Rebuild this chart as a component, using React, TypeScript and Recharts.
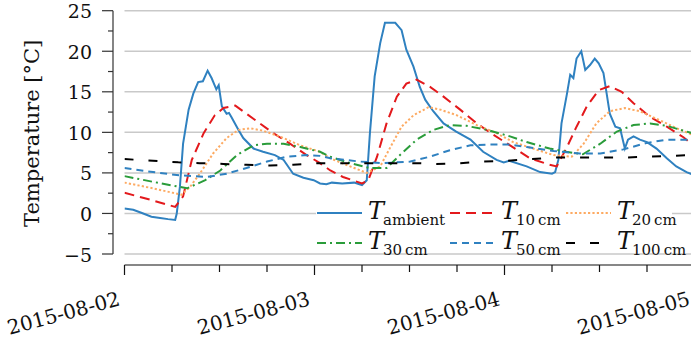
import { CartesianGrid, Legend, Line, LineChart, XAxis, YAxis } from "recharts";

type Pair = [number, number];

// hours since 2015-08-02 00:00, temperature in °C
const tAmbient: Pair[] = [
  [0, 0.6], [1.1, 0.45], [2.2, 0.05], [3.4, -0.4], [4.5, -0.55], [5.5, -0.7], [6.4, -0.8],
  [6.6, 0], [7.0, 3.3], [7.4, 8.6], [8.1, 12.8], [8.7, 14.8], [9.3, 16.2], [9.9, 16.3],
  [10.5, 17.6], [11.0, 16.7], [11.6, 15.3], [11.9, 15.8], [12.3, 13.2], [12.9, 12.3],
  [13.2, 12.4], [13.5, 11.9], [14.4, 10.3], [15.0, 9.3], [16.3, 8.0], [17.5, 7.6],
  [19.0, 7.2], [20.1, 6.6], [21.3, 4.9], [22.6, 4.4], [23.9, 4.1], [24.7, 3.7], [25.5, 3.6],
  [26.2, 3.8], [27.5, 3.7], [29.0, 3.8], [30.0, 3.5], [30.6, 4.1], [31.0, 9.9], [31.6, 16.9],
  [32.3, 21.0], [32.9, 23.5], [34.2, 23.5], [35.0, 22.6], [35.6, 20.2], [36.5, 18.1],
  [37.3, 15.6], [38.0, 14.0], [39.0, 12.6], [40.3, 11.1], [41.9, 10.1], [43.7, 9.1],
  [45.3, 7.6], [47.0, 6.6], [47.9, 6.3], [48.6, 6.5], [50.8, 5.8], [52.5, 5.1], [54.0, 4.9],
  [54.4, 5.1], [54.8, 6.6], [55.2, 11.1], [55.9, 14.8], [56.3, 17.1], [56.7, 16.7],
  [57.1, 19.1], [57.7, 20.0], [58.2, 17.7], [58.8, 18.3], [59.4, 19.1], [59.9, 18.5],
  [60.5, 17.3], [60.9, 14.8], [61.3, 12.3], [62.0, 10.7], [62.6, 10.5], [63.2, 8.0],
  [63.6, 9.1], [64.3, 9.5], [65.1, 9.1], [66.0, 8.8], [67.2, 8.0], [68.5, 6.8], [69.7, 5.8],
  [71.0, 5.1], [72, 4.7],
];

const t10cm: Pair[] = [
  [0, 2.55], [3.6, 1.6], [6.4, 0.8], [7.4, 2.1], [8.5, 6.6], [10.0, 9.9], [11.4, 12.1],
  [12.5, 13.0], [14.0, 13.3], [15.4, 12.3], [17.1, 11.1], [18.8, 9.9], [20.9, 8.6],
  [23.0, 7.2], [24.7, 6.2], [26.0, 5.3], [27.6, 4.5], [30.0, 3.7], [30.8, 4.1], [31.9, 7.0],
  [33.1, 11.1], [34.4, 14.4], [35.6, 16.0], [36.9, 16.5], [38.6, 15.6], [40.3, 14.4],
  [42.4, 12.8], [44.5, 11.1], [46.6, 9.7], [48.7, 8.4], [51.2, 6.8], [53.7, 6.0], [54.6, 5.8],
  [55.9, 8.2], [57.1, 10.7], [58.4, 13.2], [59.9, 15.2], [61.3, 15.7], [62.8, 15.0],
  [64.3, 13.6], [66.4, 11.9], [68.5, 10.7], [70.6, 9.4], [72, 8.3],
];

const t20cm: Pair[] = [
  [0, 3.8], [3.6, 3.1], [7.2, 2.3], [8.3, 3.3], [9.5, 4.9], [11.2, 7.4], [12.9, 9.3],
  [14.4, 10.3], [15.9, 10.5], [17.5, 10.2], [19.6, 9.5], [22.2, 8.4], [24.7, 7.6], [26.0, 6.8],
  [28.5, 5.8], [30.6, 5.0], [32.3, 5.8], [33.6, 8.2], [35.0, 10.7], [36.5, 12.1], [38.4, 13.1],
  [39.9, 12.8], [42.0, 12.1], [44.5, 10.9], [47.0, 9.9], [49.1, 8.8], [51.6, 8.0], [54.2, 7.2],
  [56.5, 7.0], [58.0, 8.6], [59.6, 11.1], [61.3, 12.6], [63.2, 13.0], [65.1, 12.6],
  [67.6, 11.5], [70.2, 10.3], [72, 9.6],
];

const t30cm: Pair[] = [
  [0, 4.6], [3.6, 3.9], [7.9, 3.1], [10.2, 4.1], [12.1, 5.3], [14.2, 7.2], [16.3, 8.4],
  [18.0, 8.6], [20.1, 8.6], [22.2, 8.2], [24.7, 7.6], [26.0, 7.0], [28.5, 6.2], [31.0, 5.6],
  [33.1, 5.6], [34.8, 7.2], [36.9, 9.1], [39.0, 10.3], [41.1, 10.9], [43.2, 10.8],
  [45.8, 10.3], [48.7, 9.5], [50.8, 8.8], [53.7, 8.0], [55.8, 7.6], [57.9, 7.3], [60.1, 8.6],
  [62.2, 10.1], [64.3, 10.9], [66.4, 11.1], [68.5, 10.8], [71.0, 10.1], [72, 9.8],
];

const t50cm: Pair[] = [
  [0, 5.6], [3.6, 5.1], [7.0, 4.7], [10.4, 4.5], [12.9, 4.9], [15.4, 5.6], [18.0, 6.4],
  [20.5, 7.0], [23.0, 7.2], [24.7, 7.1], [26.0, 6.8], [29.7, 6.4], [32.7, 6.2], [36.1, 6.4],
  [38.6, 7.0], [41.1, 7.8], [43.7, 8.4], [46.2, 8.5], [48.7, 8.5], [50.8, 8.2], [54.2, 7.7],
  [57.5, 7.4], [60.1, 7.4], [63.0, 7.9], [66.0, 8.7], [68.5, 9.1], [72, 9.1],
];

const t100cm: Pair[] = [
  [0, 6.7], [3.6, 6.5], [6.8, 6.3], [9.5, 6.2], [12.5, 6.1], [15.4, 6.0], [18.4, 5.9],
  [21.3, 6.0], [24.3, 6.2], [27.0, 6.2], [30.0, 6.2], [33.0, 6.2], [36.9, 6.2], [39.4, 6.1],
  [42.4, 6.2], [45.3, 6.4], [48.3, 6.5], [51.2, 6.7], [54.6, 6.9], [57.1, 6.9], [60.1, 6.9],
  [63.4, 6.9], [66.0, 7.0], [68.9, 7.1], [72, 7.2],
];

const yTicks = [-5, -2.5, 0, 2.5, 5, 7.5, 10, 12.5, 15, 17.5, 20, 22.5, 25];
const yGrid = [-5, 0, 5, 10, 15, 20, 25];
const xTicks = [0, 6, 12, 18, 24, 30, 36, 42, 48, 54, 60, 66, 72];
const dayLabels = ["2015-08-02", "2015-08-03", "2015-08-04", "2015-08-05"];

const BLUE = "#2f81c0";
const series = [
  { name: "ambient", data: tAmbient, color: BLUE, dash: undefined as string | undefined },
  { name: "10\u2009cm", data: t10cm, color: "#e3191c", dash: "10 6" },
  { name: "20\u2009cm", data: t20cm, color: "#fdaa62", dash: "2.2 2.2" },
  { name: "30\u2009cm", data: t30cm, color: "#2a9c3a", dash: "9 4 2 4" },
  { name: "50\u2009cm", data: t50cm, color: BLUE, dash: "7 5" },
  { name: "100\u2009cm", data: t100cm, color: "#000000", dash: "9 15" },
];

const FONT = "DejaVu Serif";
const TOP = 10.7;
const Y_PAD = 11;
const X_AXIS_H = 76;
const H = 341;
const PPU = (H - X_AXIS_H - Y_PAD - TOP) / 30;

const toPoints = (d: Pair[]) => d.map(([h, v]) => ({ h, v }));

function YTick(props: any) {
  const { x, y, payload } = props;
  const v = payload.value as number;
  const ax = x - 11.5;
  const major = v % 5 === 0;
  return (
    <g>
      {v === 25 && <line x1={ax} x2={ax} y1={y} y2={y + 30 * PPU} stroke="#333" strokeWidth={1.2} />}
      <line x1={ax - (major ? 11 : 5)} x2={ax} y1={y} y2={y} stroke="#333" strokeWidth={1.2} />
      {major && (
        <text x={ax - 21} y={y + 7.5} textAnchor="end" fontSize={19} fontFamily={FONT} fill="#111">
          {v < 0 ? `\u2212${Math.abs(v)}` : v}
        </text>
      )}
    </g>
  );
}

function XTick(props: any) {
  const { x, y, payload } = props;
  const v = payload.value as number;
  const major = v % 24 === 0;
  const lx = x - 3.5;
  const ly = y + 40;
  return (
    <g>
      <line x1={x} x2={x} y1={y} y2={y + (major ? 10 : 7)} stroke="#111" strokeWidth={1.2} />
      {major && (
        <text x={lx} y={ly} textAnchor="end" fontSize={20} fontFamily={FONT} fill="#111"
          transform={`rotate(-15 ${lx} ${ly})`}>
          {dayLabels[v / 24]}
        </text>
      )}
    </g>
  );
}

function YLabel(props: any) {
  const { viewBox } = props;
  const cx = viewBox.x + 39;
  const cy = viewBox.y + (viewBox.height - Y_PAD) / 2 + 1;
  return (
    <text x={cx} y={cy} textAnchor="middle" fontSize={21} fontFamily={FONT} fill="#111"
      transform={`rotate(-90 ${cx} ${cy})`}>
      Temperature [°C]
    </text>
  );
}

const COLS = [1, 134, 250];
const ROWS = [17, 47];

function LegendBox({ payload }: any) {
  const order = series.map((s) => s.name);
  const items = [...((payload || []) as any[])].sort(
    (a, b) => order.indexOf(a.value) - order.indexOf(b.value)
  );
  return (
    <svg width={356} height={66} style={{ display: "block", overflow: "visible" }}>
      <rect x={0} y={0} width={356} height={56} fill="#fff" />
      {items.map((p, i) => {
        const s = series.find((d) => d.name === p.value)!;
        const sx = COLS[i % 3];
        const sy = ROWS[Math.floor(i / 3)];
        return (
          <g key={s.name}>
            <line x1={sx} x2={sx + 45} y1={sy} y2={sy} stroke={s.color} strokeWidth={2}
              strokeDasharray={s.dash} />
            <text x={sx + 51} y={sy + 5.5} fontFamily={FONT} fill="#111">
              <tspan fontSize={24} fontStyle="italic">T</tspan>
              <tspan fontSize={15} dy={6.5} dx={-1}>{s.name}</tspan>
            </text>
          </g>
        );
      })}
    </svg>
  );
}

export default function App() {
  return (
    <div style={{ position: "absolute", left: 0, top: 0, width: 691, height: H, overflow: "hidden", background: "#fff" }}>
      <LineChart width={700} height={H} margin={{ top: TOP, right: 5.5, bottom: 0, left: 0 }}>
        <CartesianGrid vertical={false} horizontalValues={yGrid} stroke="#c9c9c9" strokeWidth={1.5} />
        <XAxis type="number" dataKey="h" domain={[0, 72]} ticks={xTicks} interval={0}
          height={X_AXIS_H} tickSize={0} tickMargin={0} tickLine={false} allowDataOverflow
          axisLine={{ stroke: "#111", strokeWidth: 1.2 }} tick={<XTick />} />
        <YAxis type="number" domain={[-5, 25]} ticks={yTicks} interval={0} width={124.5}
          padding={{ top: 0, bottom: Y_PAD }} tickSize={0} tickMargin={0} tickLine={false}
          axisLine={false} tick={<YTick />} label={<YLabel />} allowDataOverflow />
        {series.map((s) => (
          <Line key={s.name} name={s.name} data={toPoints(s.data)} dataKey="v" type="linear"
            stroke={s.color} strokeWidth={2} strokeDasharray={s.dash} dot={false}
            activeDot={false} isAnimationActive={false} />
        ))}
        <Legend layout="vertical" align="center" verticalAlign="middle" content={<LegendBox />}
          wrapperStyle={{ position: "absolute", left: 316, top: 196, width: 356, height: 56 }} />
      </LineChart>
    </div>
  );
}
